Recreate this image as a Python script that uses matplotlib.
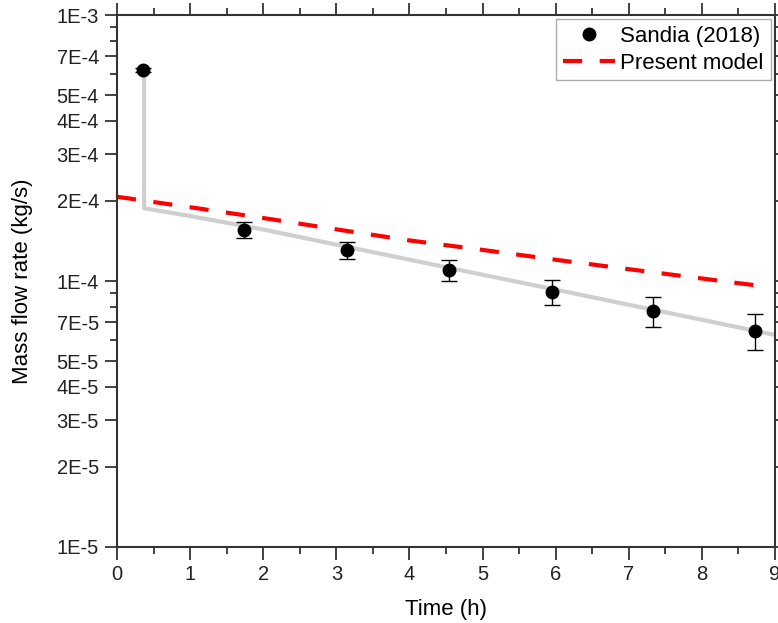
import matplotlib
matplotlib.use("Agg")
import matplotlib.pyplot as plt
import matplotlib.ticker as mticker
import numpy as np

plt.rcParams['font.family'] = ['Liberation Sans', 'DejaVu Sans']

# Sandia (2018) measurements
sandia_t = [0.36, 1.74, 3.15, 4.54, 5.95, 7.33, 8.73]
sandia_m = [6.2e-4, 1.556e-4, 1.307e-4, 1.10e-4, 9.1e-5, 7.71e-5, 6.49e-5]
sandia_err = [1.0e-5, 1.05e-5, 1.0e-5, 1.0e-5, 1.0e-5, 1.0e-5, 1.0e-5]

# gray reference curve
gray_t = [0.37, 0.37, 1, 2, 3, 4, 5, 6, 7, 8, 9]
gray_m = [6.2e-4, 1.877e-4, 1.755e-4, 1.562e-4, 1.370e-4, 1.203e-4,
          1.056e-4, 9.28e-5, 8.14e-5, 7.15e-5, 6.27e-5]

# present model
model_t = [0, 1, 2, 3, 4, 5, 6, 7, 8, 8.75]
model_m = [2.074e-4, 1.894e-4, 1.725e-4, 1.564e-4, 1.421e-4, 1.309e-4,
           1.202e-4, 1.108e-4, 1.022e-4, 9.62e-5]

major_y = [1e-5, 2e-5, 3e-5, 4e-5, 5e-5, 7e-5, 1e-4, 2e-4, 3e-4, 4e-4, 5e-4, 7e-4, 1e-3]
major_y_labels = ['1E-5', '2E-5', '3E-5', '4E-5', '5E-5', '7E-5', '1E-4',
                  '2E-4', '3E-4', '4E-4', '5E-4', '7E-4', '1E-3']
minor_y = [6e-5, 8e-5, 9e-5, 6e-4, 8e-4, 9e-4]

fig = plt.figure(figsize=(7.78, 6.23), dpi=100)
ax = fig.add_axes([0.1504, 0.1220, 0.8457, 0.8539])

ax.plot(gray_t, gray_m, color='#cfcfcf', lw=3, zorder=1)
ax.errorbar(sandia_t, sandia_m, yerr=sandia_err, fmt='none', ecolor='black',
            capsize=6, elinewidth=1, capthick=1, zorder=3)
pts, = ax.plot(sandia_t, sandia_m, 'o', color='black', ms=9, zorder=4,
               label='Sandia (2018)')
mdl, = ax.plot(model_t, model_m, color='red', lw=3, ls=(0, (4.6, 4.2)),
               label='Present model', zorder=2)

ax.set_yscale('log')
ax.set_xlim(0, 9)
ax.set_ylim(1e-5, 1e-3)
ax.xaxis.set_major_locator(mticker.MultipleLocator(1))
ax.xaxis.set_minor_locator(mticker.MultipleLocator(0.5))
ax.yaxis.set_major_locator(mticker.FixedLocator(major_y))
ax.yaxis.set_major_formatter(mticker.FixedFormatter(major_y_labels))
ax.yaxis.set_minor_locator(mticker.FixedLocator(minor_y))
ax.yaxis.set_minor_formatter(mticker.NullFormatter())

ax.tick_params(which='both', direction='out', top=True, right=True,
               labelsize=14.5, width=1.2, colors='#222222')
ax.tick_params(which='major', length=9, pad=4)
ax.tick_params(which='minor', length=5)
for s in ax.spines.values():
    s.set_linewidth(1.5)
    s.set_color('#333333')

ax.set_xlabel('Time (h)', fontsize=16, labelpad=11)
ax.set_ylabel('Mass flow rate (kg/s)', fontsize=16, labelpad=17)

leg = ax.legend(handles=[pts, mdl], loc='upper right', fontsize=16,
                frameon=True, fancybox=False, borderaxespad=0.2,
                handlelength=2.35, borderpad=0.3, labelspacing=0.25,
                handletextpad=0.25)
leg.get_frame().set_edgecolor('#999999')
leg.get_frame().set_linewidth(1)

fig.savefig('out.png', dpi=100)
